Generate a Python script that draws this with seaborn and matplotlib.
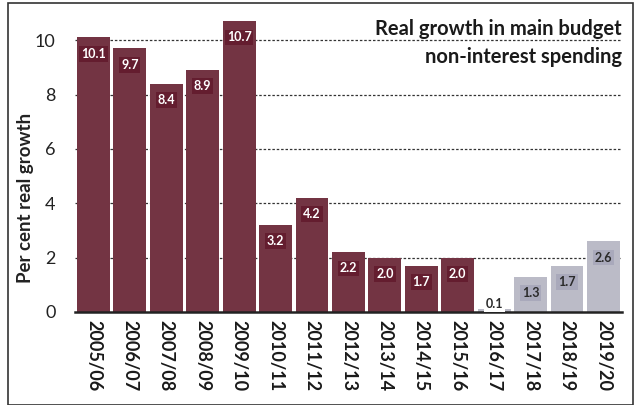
import matplotlib
matplotlib.use("Agg")
import matplotlib.pyplot as plt
from matplotlib.patches import Rectangle
import seaborn as sns
import pandas as pd

years = ["2005/06", "2006/07", "2007/08", "2008/09", "2009/10", "2010/11",
         "2011/12", "2012/13", "2013/14", "2014/15", "2015/16", "2016/17",
         "2017/18", "2018/19", "2019/20"]
growth = [10.1, 9.7, 8.4, 8.9, 10.7, 3.2, 4.2, 2.2, 2.0, 1.7, 2.0, 0.1, 1.3, 1.7, 2.6]
period = ["Outcome"] * 11 + ["Projection"] * 4

bar_colours = {"Outcome": "#7d2a3e", "Projection": "#b9b9c9"}
label_boxes = {"Outcome": "#641d2f", "Projection": "#a9a9bb"}
label_text = {"Outcome": "white", "Projection": "#2a2a2a"}

df = pd.DataFrame({"year": years, "growth": growth, "period": period})

sns.set_theme(style="white")
plt.rcParams["font.family"] = ["Lato", "DejaVu Sans"]

fig = plt.figure(figsize=(6.37, 4.05), dpi=100)
ax = fig.add_axes([0.118, 0.23, 0.858, 0.758])

sns.barplot(data=df, x="year", y="growth", hue="period", palette=bar_colours,
            dodge=False, width=0.9, legend=False, ax=ax, zorder=2,
            edgecolor="none")

ax.set_ylim(0, 11.3)
ax.set_yticks([0, 2, 4, 6, 8, 10])
ax.set_yticklabels(["0", "2", "4", "6", "8", "10"], fontsize=13, color="#222222")
for yv in [2, 4, 6, 8, 10]:
    ax.axhline(yv, color="#333333", lw=0.9, ls=(0, (2, 1.5)), zorder=1)

ax.set_xlabel("")
ax.set_ylabel("Per cent real growth", fontsize=13.5, fontweight="bold",
              color="#222222")
ax.yaxis.set_label_coords(-0.075, 0.37)
ax.tick_params(axis="x", length=0, pad=6)
ax.tick_params(axis="y", length=0, pad=14)
for lbl in ax.get_xticklabels():
    lbl.set_rotation(270)
    lbl.set_fontsize(13)
    lbl.set_fontweight("bold")
    lbl.set_color("#1a1a1a")
    lbl.set_va("top")

for side in ["top", "right", "left"]:
    ax.spines[side].set_visible(False)
ax.spines["bottom"].set_color("#222222")
ax.spines["bottom"].set_linewidth(1.8)
ax.spines["bottom"].set_zorder(3)

for i, (v, p) in enumerate(zip(growth, period)):
    ypos = max(v - 0.6, 0.28)
    ax.text(i, ypos, f"{v:.1f}", ha="center", va="center", fontsize=9,
            fontweight="bold", color=label_text[p], zorder=4,
            bbox=dict(boxstyle="square,pad=0.15",
                      facecolor=label_boxes[p] if v > 1 else "white",
                      edgecolor="none"))

ax.text(1.0, 0.955, "Real growth in main budget\nnon-interest spending",
        transform=ax.transAxes, ha="right", va="top", fontsize=14.5,
        fontweight="bold", color="#1a1a1a", linespacing=1.5, zorder=5)

fig.patches.append(Rectangle((0.013, 0.0), 0.98, 0.993, transform=fig.transFigure,
                             fill=False, edgecolor="#333333", lw=1.2))

fig.savefig("out.png", dpi=100)
